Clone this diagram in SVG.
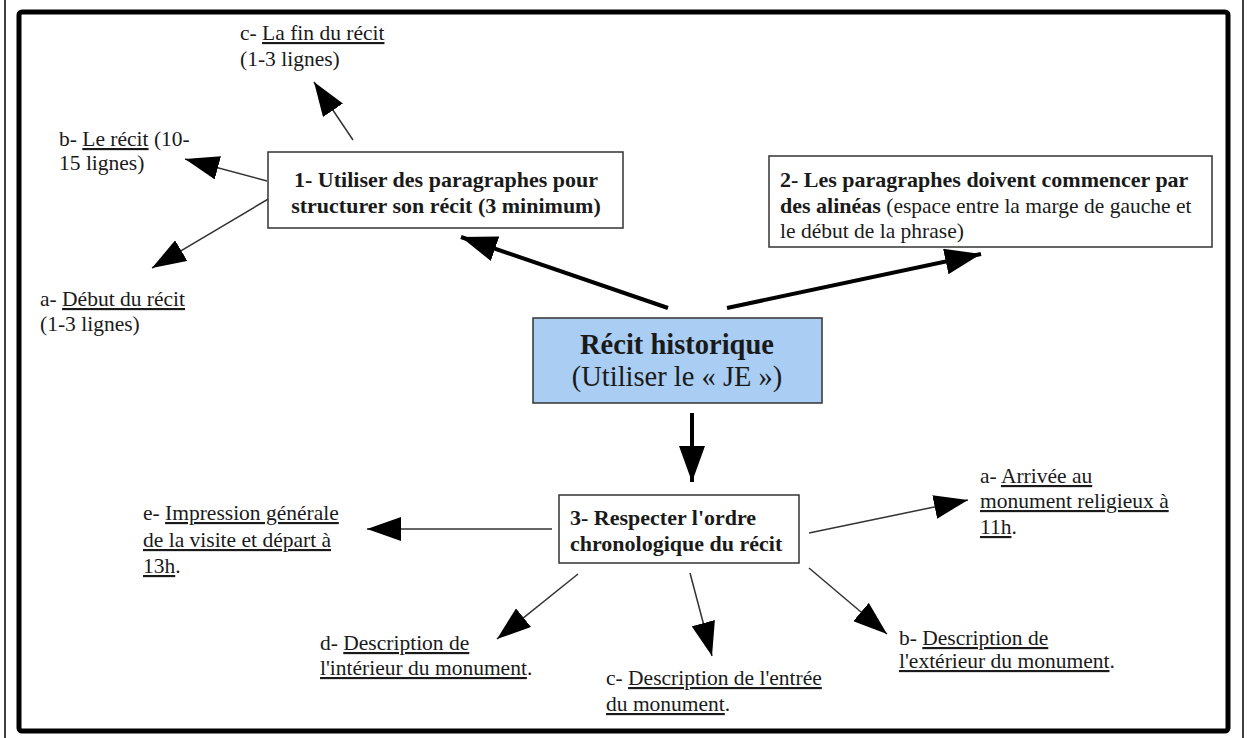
<svg xmlns="http://www.w3.org/2000/svg" width="1247" height="738" viewBox="0 0 1247 738">
<defs>
<style>
text{font-family:"Liberation Serif","Times New Roman",serif;fill:#1a1a1a}
.lbl{font-size:21.5px}
.bold{font-weight:bold}
.u{text-decoration:underline}
.box{fill:#fff;stroke:#333;stroke-width:1.5}
.thick{stroke:#000;stroke-width:4;fill:none}
.thin{stroke:#333;stroke-width:1.5;fill:none}
</style>
<marker id="ah" markerUnits="userSpaceOnUse" viewBox="0 0 34 24" refX="34" refY="12" markerWidth="34" markerHeight="24" orient="auto">
<path d="M0,0 L34,12 L0,24 z" fill="#000"/>
</marker>
<marker id="ahb" markerUnits="userSpaceOnUse" viewBox="0 0 36 26" refX="36" refY="13" markerWidth="36" markerHeight="26" orient="auto">
<path d="M0,0 L36,13 L0,26 z" fill="#000"/>
</marker>
</defs>
<rect x="0" y="0" width="1247" height="738" fill="#fff"/>
<line x1="5" y1="0" x2="5" y2="738" stroke="#000" stroke-width="1.5"/>
<line x1="1243" y1="0" x2="1243" y2="738" stroke="#000" stroke-width="1.5"/>
<rect x="19" y="12" width="1209" height="719" rx="3" fill="none" stroke="#000" stroke-width="5"/>

<g id="connectors">
<line class="thick" x1="668" y1="308" x2="461" y2="237" marker-end="url(#ahb)"/>
<line class="thick" x1="727" y1="308" x2="981" y2="254" marker-end="url(#ahb)"/>
<line class="thick" x1="692" y1="413" x2="692" y2="482" marker-end="url(#ahb)"/>
<line class="thin" x1="353" y1="140" x2="314" y2="82" marker-end="url(#ah)"/>
<line class="thin" x1="267" y1="181" x2="185" y2="159" marker-end="url(#ah)"/>
<line class="thin" x1="270" y1="198" x2="152" y2="268" marker-end="url(#ah)"/>
<line class="thin" x1="552" y1="529" x2="367" y2="529" marker-end="url(#ah)"/>
<line class="thin" x1="809" y1="533" x2="968" y2="500" marker-end="url(#ah)"/>
<line class="thin" x1="809" y1="568" x2="887" y2="634" marker-end="url(#ah)"/>
<line class="thin" x1="690" y1="573" x2="712" y2="656" marker-end="url(#ah)"/>
<line class="thin" x1="578" y1="574" x2="497" y2="639" marker-end="url(#ah)"/>
</g>

<g id="central">
<rect x="533" y="318" width="289" height="85" fill="#a9cdf3" stroke="#333" stroke-width="1.5"/>
<text x="677" y="354" text-anchor="middle" font-size="28.5" class="bold">Récit historique</text>
<text x="677" y="386" text-anchor="middle" font-size="28.5">(Utiliser le « JE »)</text>
</g>

<g id="node1">
<rect class="box" x="268" y="152" width="355" height="76"/>
<text x="446" y="187" text-anchor="middle" font-size="22" class="bold">1- Utiliser des paragraphes pour</text>
<text x="446" y="213" text-anchor="middle" font-size="22" class="bold">structurer son récit (3 minimum)</text>
</g>

<g id="node2">
<rect class="box" x="769" y="156" width="443" height="91"/>
<text x="780" y="187" font-size="22" class="bold">2- Les paragraphes doivent commencer par</text>
<text x="780" y="213" class="lbl"><tspan class="bold" font-size="22">des alinéas</tspan> (espace entre la marge de gauche et</text>
<text x="780" y="238" class="lbl">le début de la phrase)</text>
</g>

<g id="node3">
<rect class="box" x="559" y="495" width="240" height="68"/>
<text x="570" y="525" font-size="22" class="bold">3- Respecter l'ordre</text>
<text x="570" y="551" font-size="22" class="bold">chronologique du récit</text>
</g>

<g id="n1c">
<text x="240" y="40" class="lbl">c- <tspan class="u">La fin du récit</tspan></text>
<text x="240" y="66" class="lbl">(1-3 lignes)</text>
</g>
<g id="n1b">
<text x="59" y="146" class="lbl">b- <tspan class="u">Le récit</tspan> (10-</text>
<text x="59" y="170" class="lbl">15 lignes)</text>
</g>
<g id="n1a">
<text x="40" y="306" class="lbl">a- <tspan class="u">Début du récit</tspan></text>
<text x="40" y="331" class="lbl">(1-3 lignes)</text>
</g>

<g id="n3e">
<text x="143" y="520" class="lbl">e- <tspan class="u">Impression générale</tspan></text>
<text x="143" y="547" class="lbl"><tspan class="u">de la visite et départ à</tspan></text>
<text x="143" y="573" class="lbl"><tspan class="u">13h</tspan>.</text>
</g>
<g id="n3d">
<text x="320" y="650" class="lbl">d- <tspan class="u">Description de</tspan></text>
<text x="320" y="675" class="lbl"><tspan class="u">l'intérieur du monument</tspan>.</text>
</g>
<g id="n3c">
<text x="606" y="685" class="lbl">c- <tspan class="u">Description de l'entrée</tspan></text>
<text x="606" y="711" class="lbl"><tspan class="u">du monument</tspan>.</text>
</g>
<g id="n3b">
<text x="899" y="645" class="lbl">b- <tspan class="u">Description de</tspan></text>
<text x="899" y="668" class="lbl"><tspan class="u">l'extérieur du monument</tspan>.</text>
</g>
<g id="n3a">
<text x="980" y="483" class="lbl">a- <tspan class="u">Arrivée au</tspan></text>
<text x="980" y="508" class="lbl"><tspan class="u">monument religieux à</tspan></text>
<text x="980" y="534" class="lbl"><tspan class="u">11h</tspan>.</text>
</g>
</svg>
